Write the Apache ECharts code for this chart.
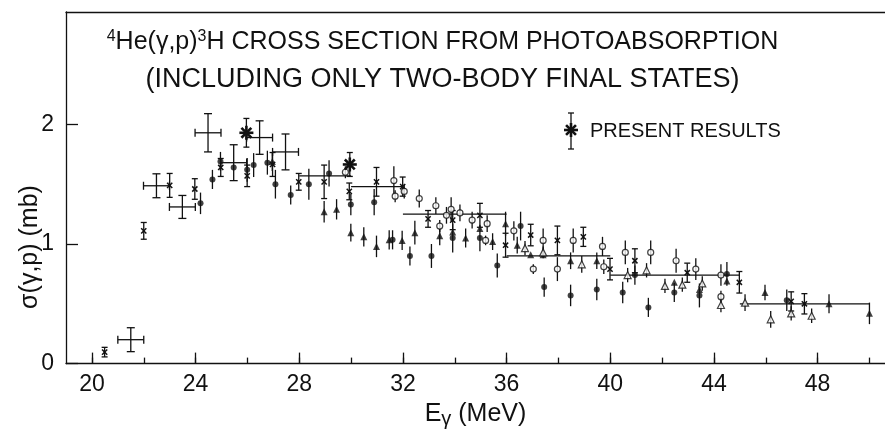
<!DOCTYPE html>
<html><head><meta charset="utf-8">
<script src="https://cdn.jsdelivr.net/npm/echarts@6/dist/echarts.min.js"></script>
<style>html,body{margin:0;padding:0;background:#fff}#c{width:885px;height:434px}</style>
</head><body><div id="c"></div>
<script>
// ---------- axis ticks ----------
const xMajorTicks = [20, 24, 28, 32, 36, 40, 44, 48];
const xMinorTicks = [20, 22, 24, 26, 28, 30, 32, 34, 36, 38, 40, 42, 44, 46, 48, 50];
const yTicks = [0, 1, 2];

// ---------- data: [E (MeV), sigma (mb), sigma error] ----------
const filledCircles = [
  [24.19,1.34,0.09],[24.65,1.54,0.08],[24.96,1.69,0.08],[25.47,1.64,0],[25.99,1.62,0.10],
  [26.24,1.66,0.10],[26.77,1.68,0.10],[27.08,1.50,0.12],[27.67,1.41,0.08],[28.37,1.50,0.13],
  [29.15,1.59,0.11],[29.99,1.33,0.09],[30.89,1.35,0.11],[31.60,1.035,0.08],[32.27,0.90,0.08],
  [33.10,0.90,0.10],[33.92,1.05,0.12],[34.97,1.05,0.11],[35.64,0.82,0.10],[36.54,1.15,0.12],
  [37.45,0.64,0.08],[38.47,0.57,0.09],[39.48,0.62,0.09],[40.48,0.595,0.09],[40.95,0.74,0.08],
  [41.47,0.47,0.08],[42.47,0.595,0.08],[43.44,0.57,0.10],[44.50,0.75,0.10],[46.81,0.53,0.09]
];
const filledTriangles = [
  [26.96,1.69,0.08],[28.96,1.27,0.09],[29.44,1.29,0.085],[29.99,1.095,0.075],[30.49,1.06,0.08],
  [30.98,0.98,0.09],[31.47,1.035,0.08],[31.97,1.03,0.08],[32.46,1.095,0.10],[33.42,1.07,0.08],
  [33.92,1.10,0],[34.42,1.05,0.08],[34.97,1.13,0],[35.46,1.02,0.07],[35.96,1.17,0.10],
  [36.41,0.99,0.07],[36.93,0.91,0],[37.41,0.91,0],[38.47,0.86,0.07],[39.48,0.86,0.07],
  [42.47,0.68,0],[43.44,0.62,0],[44.50,0.69,0],[45.97,0.595,0.065],[48.44,0.50,0.08],[50.00,0.42,0.09]
];
const openCircles = [
  [29.78,1.60,0.05],[31.65,1.53,0.12],[31.70,1.40,0.05],[32.05,1.44,0.06],[32.63,1.38,0.075],
  [33.27,1.32,0.07],[33.42,1.15,0.05],[33.68,1.24,0.07],[33.86,1.29,0.10],[34.20,1.26,0.07],
  [34.67,1.20,0.07],[35.19,1.03,0.04],[35.25,1.17,0.07],[36.28,1.11,0.08],[37.03,0.79,0.04],
  [37.41,1.03,0.10],[37.96,0.79,0.10],[38.57,1.03,0.10],[39.70,0.98,0.08],[39.75,0.81,0.06],
  [40.58,0.93,0.10],[41.56,0.93,0.10],[42.54,0.86,0.10],[43.30,0.79,0.09],[44.27,0.74,0.09],
  [44.27,0.56,0.05]
];
const openTriangles = [
  [36.71,0.965,0.06],[37.41,0.93,0.05],[38.90,0.83,0.07],[40.67,0.74,0.06],[41.40,0.78,0.06],
  [42.11,0.65,0.06],[42.78,0.66,0.06],[43.55,0.67,0.06],[44.27,0.49,0.06],[45.20,0.51,0.07],
  [46.19,0.37,0.07],[46.98,0.42,0.06],[47.77,0.40,0.06]
];
const crossPoints = [
  [20.49,0.096,0.04],[22.00,1.11,0.07],[23.00,1.49,0.10],[23.97,1.46,0.086],[24.97,1.64,0.075],
  [25.99,1.57,0.09],[26.97,1.665,0.10],[27.98,1.52,0.07],[28.96,1.52,0.14],[29.93,1.44,0.07],
  [30.98,1.52,0.12],[31.99,1.48,0.08],[32.97,1.21,0.07],[33.92,1.20,0.08],[34.97,1.24,0.10],
  [35.96,0.99,0.10],[36.93,1.075,0.09],[37.96,1.03,0.12],[38.96,1.06,0.08],[39.99,0.79,0.09],
  [40.95,0.86,0.10],[42.97,0.76,0.08],[44.98,0.68,0.09],[46.98,0.52,0.08],[47.49,0.50,0.085]
];
// [E, sigma, sigma error, energy half-width]
const binnedCrosses = [
  [21.5,0.20,0.10,0.5],[22.49,1.487,0.10,0.5],[23.49,1.31,0.096,0.5],[24.48,1.93,0.16,0.5],
  [25.47,1.68,0.15,0.5],[26.47,1.89,0.14,0.5],[27.47,1.77,0.15,0.5]
];
// [E from, E to, sigma]
const binAverages = [[28,30,1.57],[30,32,1.48],[32,36,1.25],[36,40,0.90],[40,45,0.74],[45,50,0.50]];
// present results
const presentResults = [[25.96,1.93,0.12],[29.95,1.665,0.10]];

const FONT = '"Liberation Sans", Arial, sans-serif';
const INK = '#111';
const LW = 1.3;

function seg(x1,y1,x2,y2,w){
  return {type:'line', shape:{x1,y1,x2,y2}, style:{stroke:INK, lineWidth:w||LW}, silent:true};
}

function errorSeries(data, capHalf, xerr){
  return {
    type:'custom', data, silent:true, animation:false, z:2,
    encode:{x:0, y:1},
    renderItem(params, api){
      const x=api.value(0), y=api.value(1), e=api.value(2);
      const ch=[];
      if(e>0){
        const a=api.coord([x,y-e]), b=api.coord([x,y+e]);
        ch.push(seg(a[0],a[1],b[0],b[1]));
        if(capHalf){ ch.push(seg(a[0]-capHalf,a[1],a[0]+capHalf,a[1])); ch.push(seg(b[0]-capHalf,b[1],b[0]+capHalf,b[1])); }
      }
      if(xerr){
        const xe=api.value(3);
        const l=api.coord([x-xe,y]), r=api.coord([x+xe,y]);
        ch.push(seg(l[0],l[1],r[0],r[1]));
        ch.push(seg(l[0],l[1]-4,l[0],l[1]+4)); ch.push(seg(r[0],r[1]-4,r[0],r[1]+4));
      }
      return {type:'group', children:ch};
    }
  };
}

function markerSeries(data, symbol, size, filled){
  return {
    type:'scatter', data, symbol, symbolSize:size, silent:true, animation:false, z:3,
    itemStyle: filled ? {color:INK} : {color:'#fff', borderColor:INK, borderWidth:1.2}
  };
}

const crossMarkSeries = {
  type:'custom', data:crossPoints, silent:true, animation:false, z:3, encode:{x:0,y:1},
  renderItem(params, api){
    const p=api.coord([api.value(0), api.value(1)]); const d=2.6;
    return {type:'group', children:[seg(p[0]-d,p[1]-d,p[0]+d,p[1]+d,1.5), seg(p[0]-d,p[1]+d,p[0]+d,p[1]-d,1.5)]};
  }
};

function asterisk(cx, cy, r){
  const ch=[];
  for(let k=0;k<4;k++){
    const a=k*Math.PI/4;
    ch.push(seg(cx-r*Math.cos(a), cy-r*Math.sin(a), cx+r*Math.cos(a), cy+r*Math.sin(a), 2.6));
  }
  return ch;
}

const presentSeries = {
  type:'custom', data:presentResults, silent:true, animation:false, z:4, encode:{x:0,y:1},
  renderItem(params, api){
    const x=api.value(0), y=api.value(1), e=api.value(2);
    const p=api.coord([x,y]), a=api.coord([x,y-e]), b=api.coord([x,y+e]);
    const ch=[seg(a[0],a[1],b[0],b[1]), seg(a[0]-3,a[1],a[0]+3,a[1]), seg(b[0]-3,b[1],b[0]+3,b[1])];
    return {type:'group', children:ch.concat(asterisk(p[0],p[1],7))};
  }
};

const binSeries = {
  type:'custom', data:binAverages, silent:true, animation:false, z:2, encode:{x:[0,1], y:2},
  renderItem(params, api){
    const a=api.coord([api.value(0), api.value(2)]), b=api.coord([api.value(1), api.value(2)]);
    return seg(a[0],a[1],b[0],b[1]);
  }
};

const chart = echarts.init(document.getElementById('c'), null, {renderer:'canvas'});
chart.setOption({
  backgroundColor:'#fff',
  animation:false,
  title:{
    text:'{sup|4}{t1|He(γ,p)}{sup|3}{t1|H CROSS SECTION FROM PHOTOABSORPTION}\n{t2|(INCLUDING ONLY TWO-BODY FINAL STATES)}',
    left:'center', top:19,
    textStyle:{
      fontWeight:'normal',
      rich:{
        t1:{fontFamily:FONT, fontSize:25, fontWeight:'normal', color:INK, lineHeight:37},
        t2:{fontFamily:FONT, fontSize:27, fontWeight:'normal', color:INK, lineHeight:37},
        sup:{fontFamily:FONT, fontSize:16, fontWeight:'normal', color:INK, padding:[0,0,12,0]}
      }
    }
  },
  grid:{left:66, right:0, top:12, bottom:66, show:false},
  xAxis:[{
    type:'value', min:19, max:50.6, gridIndex:0,
    axisLine:{lineStyle:{color:INK, width:LW}},
    axisTick:{inside:true, length:11, customValues:xMajorTicks, lineStyle:{color:INK, width:LW}},
    axisLabel:{customValues:xMajorTicks, fontFamily:FONT, fontSize:23, color:INK, margin:10},
    splitLine:{show:false},
    name:'E{sub|γ} (MeV)', nameLocation:'middle', nameGap:32,
    nameTextStyle:{fontFamily:FONT, fontSize:25, color:INK, rich:{sub:{fontFamily:FONT, fontSize:20, color:INK, padding:[10,0,0,0]}}}
  },{
    type:'value', min:19, max:50.6, gridIndex:0, position:'bottom',
    axisLine:{show:false},
    axisTick:{inside:true, length:6, customValues:xMinorTicks, lineStyle:{color:INK, width:LW}},
    axisLabel:{show:false}, splitLine:{show:false}
  },{
    type:'value', min:19, max:50.6, gridIndex:0, position:'top',
    axisLine:{show:true, lineStyle:{color:INK, width:LW}},
    axisTick:{show:false}, axisLabel:{show:false}, splitLine:{show:false}
  }],
  yAxis:{
    type:'value', min:0, max:2.94,
    axisLine:{show:true, lineStyle:{color:INK, width:LW}},
    axisTick:{show:true, inside:true, length:12, customValues:yTicks, lineStyle:{color:INK, width:LW}},
    axisLabel:{customValues:yTicks, fontFamily:FONT, fontSize:23, color:INK, margin:12},
    splitLine:{show:false}
  },
  graphic:[
    {type:'text', x:30, y:247, rotation:Math.PI/2,
     style:{text:'σ(γ,p) (mb)', fontFamily:FONT, fontSize:25, fill:INK, align:'center', verticalAlign:'middle'}},
    {type:'group', children:[
      seg(571,113,571,149), seg(568,113,574,113), seg(568,149,574,149)
    ].concat(asterisk(571,130,7))},
    {type:'text', x:590, y:131,
     style:{text:'PRESENT RESULTS', fontFamily:FONT, fontSize:20, fill:INK, align:'left', verticalAlign:'middle'}}
  ],
  series:[
    binSeries,
    errorSeries(filledCircles, 0, false),
    errorSeries(filledTriangles, 0, false),
    errorSeries(openCircles, 0, false),
    errorSeries(openTriangles, 0, false),
    errorSeries(crossPoints, 3, false),
    errorSeries(binnedCrosses, 4, true),
    markerSeries(filledCircles, 'circle', 6, true),
    markerSeries(filledTriangles, 'triangle', 7, true),
    markerSeries(openCircles, 'circle', 6, false),
    markerSeries(openTriangles, 'triangle', 7, false),
    crossMarkSeries,
    presentSeries
  ]
});
</script></body></html>
